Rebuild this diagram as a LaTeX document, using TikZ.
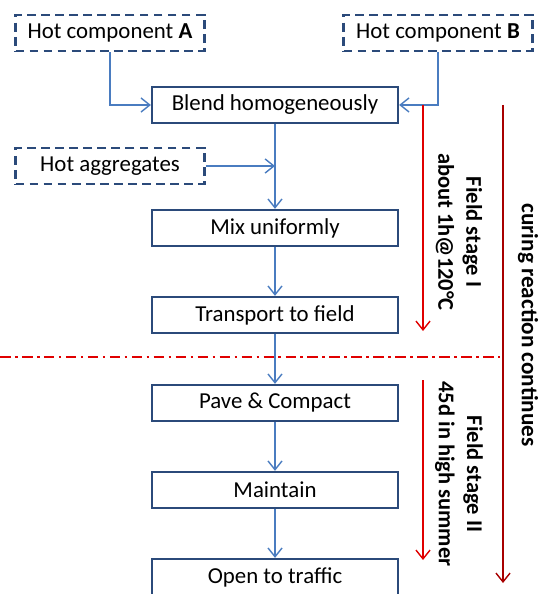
\documentclass[tikz,border=0pt]{standalone}
\usepackage{fontspec}
\setmainfont{Carlito}
\usetikzlibrary{arrows.meta, positioning}

\begin{document}
\begin{tikzpicture}[x=0.02cm, y=-0.02cm,
      stepbox/.style={draw=boxblue, line width=1.3pt, minimum width=4.92cm, minimum height=0.72cm},
      inbox/.style={draw=boxblue, line width=1.3pt, dash pattern=on 5pt off 3pt, minimum width=3.78cm, minimum height=0.72cm},
      flow/.style={-{Straight Barb[length=5pt, width=8pt]}, draw=flowblue, line width=0.8pt},
      stage/.style={-{Straight Barb[length=5pt, width=8pt]}, draw=stagered, line width=0.8pt},
      vlabel/.style={rotate=-90, font=\fontsize{12.8}{16}\selectfont\bfseries, align=center},
      every node/.style={font=\fontsize{13}{15}\selectfont}
      ]
    \definecolor{boxblue}{HTML}{2B4A7A}
    \definecolor{flowblue}{HTML}{4A7CC0}
    \definecolor{stagered}{HTML}{E00000}
    \definecolor{curered}{HTML}{A80000}
    \useasboundingbox (0,0) rectangle (539,594);
    \clip (0,0) rectangle (539,594);

    % Inputs
    \node[inbox] (compA) at (110,33) {Hot component \textbf{A}};
    \node[inbox] (compB) at (438,33) {Hot component \textbf{B}};
    \node[inbox] (agg) at (110,166) {Hot aggregates};

    % Process steps
    \node[stepbox] (blend) at (275,105) {Blend homogeneously};
    \node[stepbox] (mix) at (275,228) {Mix uniformly};
    \node[stepbox] (transport) at (275,315) {Transport to field};
    \node[stepbox] (pave) at (275,403) {Pave \& Compact};
    \node[stepbox] (maintain) at (275,490) {Maintain};
    \node[stepbox] (open) at (275,577) {Open to traffic};

    % Flow arrows
    \draw[flow] (compA.south) |- (blend.west);
    \draw[flow] (compB.south) |- (blend.east);
    \draw[flow] (agg.east) -- (agg.east -| blend.south);
    \draw[flow] (blend) -- (mix);
    \draw[flow] (mix) -- (transport);
    \draw[flow] (transport) -- (pave);
    \draw[flow] (pave) -- (maintain);
    \draw[flow] (maintain) -- (open);

    % Stage separator
    \draw[stagered, line width=0.8pt, dash pattern=on 6pt off 2.5pt on 1.5pt off 2.5pt] (0,357) -- (500,357);

    % Stage arrows
    \coordinate (s1top) at (423,105);
    \coordinate (s1end) at (423,331);
    \coordinate (s2top) at (423,380);
    \coordinate (s2end) at (423,560);
    \coordinate (curetop) at (503,105);
    \coordinate (cureend) at (503,583);
    \draw[stage] (s1top) -- (s1end);
    \draw[stage] (s2top) -- (s2end);
    \draw[stage, draw=curered] (curetop) -- (cureend);

    % Stage labels
    \node[vlabel] (s1lab) at (459,232) {Field stage I\\about 1h@120°C};
    \node[vlabel] (s2lab) at (459,474) {Field stage II\\45d in high summer};
    \node[vlabel, font=\fontsize{13.2}{16}\selectfont\bfseries] (curelab) at (528,325) {curing reaction continues};
    \end{tikzpicture}
\end{document}
